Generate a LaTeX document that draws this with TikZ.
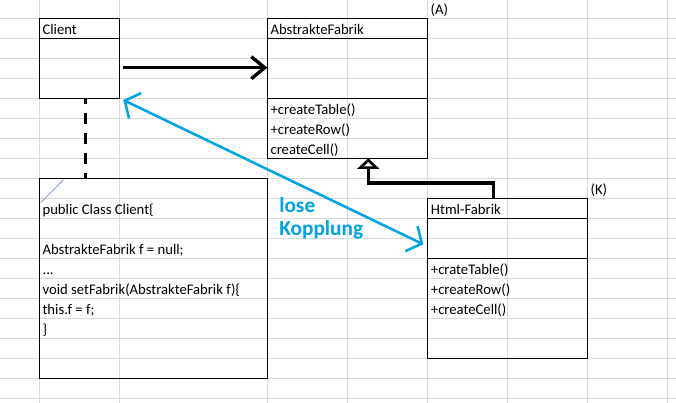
\documentclass[tikz,border=0pt]{standalone}
\usepackage{fontspec}
\setmainfont{Carlito}
\usetikzlibrary{arrows.meta}

\definecolor{gridgray}{RGB}{217,217,217}
\definecolor{loseblue}{RGB}{0,162,232}
\definecolor{markblue}{RGB}{120,150,205}

\begin{document}
\begin{tikzpicture}[
		x=0.75pt, y=-0.75pt,
		gridline/.style={draw=gridgray,line width=0.75pt},
		classbox/.style 2 args={draw,line width=0.75pt,inner sep=0pt,outer sep=0pt,anchor=north west,minimum width=#1,minimum height=#2},
		cell/.style={anchor=base west,inner sep=0pt,font=\fontsize{11}{13}\selectfont},
		assoc/.style={line width=2.5pt,-{Straight Barb[length=10pt,width=16.5pt]}},
		inherit/.style={line width=2.5pt,-{Triangle[open,length=8pt,width=16.5pt]}},
		dashlink/.style={line width=2.25pt,dash pattern=on 8.25pt off 6.75pt,dash phase=3.75pt},
		loose/.style={draw=loseblue,line width=1.9pt,{Straight Barb[length=8.6pt,width=21pt]}-{Straight Barb[length=8.6pt,width=21pt]}},
		loosetext/.style={text=loseblue,align=left,inner sep=0pt,font=\bfseries\fontsize{16}{17.5}\selectfont},
]

\useasboundingbox (0,0) rectangle (676,403);
\fill [white] (0,0) rectangle (676,403);

% sheet grid
\foreach \gx in {39.3,119.3,267.3,347.3,427.3,507.3,587.3,667.3}
	\draw [gridline] (\gx,0) -- (\gx,403);
\foreach \gy in {0,...,19}
	\draw [gridline] (0,{18.3+20*\gy}) -- (676,{18.3+20*\gy});

% classes
\node [classbox={60pt}{60pt}] (client) at (39.3,18.3) {};
\node [classbox={120pt}{105pt}] (fabrik) at (267.3,18.3) {};
\node [classbox={120pt}{120pt}] (html) at (427.3,198.3) {};
\node [classbox={171pt}{150pt}] (code) at (39.3,178.3) {};

\draw [line width=0.75pt] ([yshift=-15pt]client.north west) -- ([yshift=-15pt]client.north east);
\draw [line width=0.75pt] ([yshift=-15pt]fabrik.north west) -- ([yshift=-15pt]fabrik.north east);
\draw [line width=0.75pt] ([yshift=-60pt]fabrik.north west) -- ([yshift=-60pt]fabrik.north east);
\draw [line width=0.75pt] ([yshift=-15pt]html.north west) -- ([yshift=-15pt]html.north east);
\draw [line width=0.75pt] ([yshift=-45pt]html.north west) -- ([yshift=-45pt]html.north east);

\node [cell] (clientname) at ([shift={(3,16)}]client.north west) {Client};
\node [cell] (fabrikname) at ([shift={(3,16)}]fabrik.north west) {AbstrakteFabrik};
\node [cell] (htmlname) at ([shift={(3.4,16)}]html.north west) {Html-Fabrik};
\node [cell] (fabrikmark) at ([shift={(3,-4)}]fabrik.north east) {(A)};
\node [cell] (htmlmark) at ([shift={(3,-4)}]html.north east) {(K)};

\foreach \m [count=\i] in {+createTable(),+createRow(),createCell()}
	\node [cell] (fabrikop\i) at ([shift={(3,{76+20*\i})}]fabrik.north west) {\m};
\foreach \m [count=\i] in {+crateTable(),+createRow(),+createCell()}
	\node [cell] (htmlop\i) at ([shift={(3.4,{56+20*\i})}]html.north west) {\m};

% code note
\node [cell] (code1) at ([shift={(3,36)}]code.north west) {public Class Client\{};
\node [cell] (code2) at ([shift={(3,76)}]code.north west) {AbstrakteFabrik f = null;};
\node [cell] (code3) at ([shift={(3,96)}]code.north west) {...};
\node [cell] (code4) at ([shift={(3,116)}]code.north west) {void setFabrik(AbstrakteFabrik f)\{};
\node [cell] (code5) at ([shift={(3,136)}]code.north west) {this.f = f;};
\node [cell] (code6) at ([shift={(3,156)}]code.north west) {\}};
\draw [markblue,line width=0.6pt] ([shift={(1.4,24.4)}]code.north west) -- ([shift={(24,1.7)}]code.north west);

% connectors
\coordinate (assocstart) at ([shift={(4,9.4)}]client.east);
\draw [assoc] (assocstart) -- (assocstart -| fabrik.west);

\coordinate (noteanchor) at ([xshift=4.5pt]client.south);
\draw [dashlink] (noteanchor) -- (noteanchor |- code.north);

\coordinate (inhstart) at ([xshift=-10.5pt]html.north);
\coordinate (inhend) at ([xshift=15.75pt]fabrik.south);
\draw [inherit] (inhstart) -- ++(0,-15.3) -| (inhend);

\coordinate (loosea) at ([shift={(4,1.7)}]client.south east);
\coordinate (looseb) at ([shift={(-4,-34)}]html.west);
\draw [loose] (loosea) -- (looseb);
\node [loosetext,anchor=base west] (loosename) at (279,235.7) {lose\\Kopplung};

\end{tikzpicture}
\end{document}
